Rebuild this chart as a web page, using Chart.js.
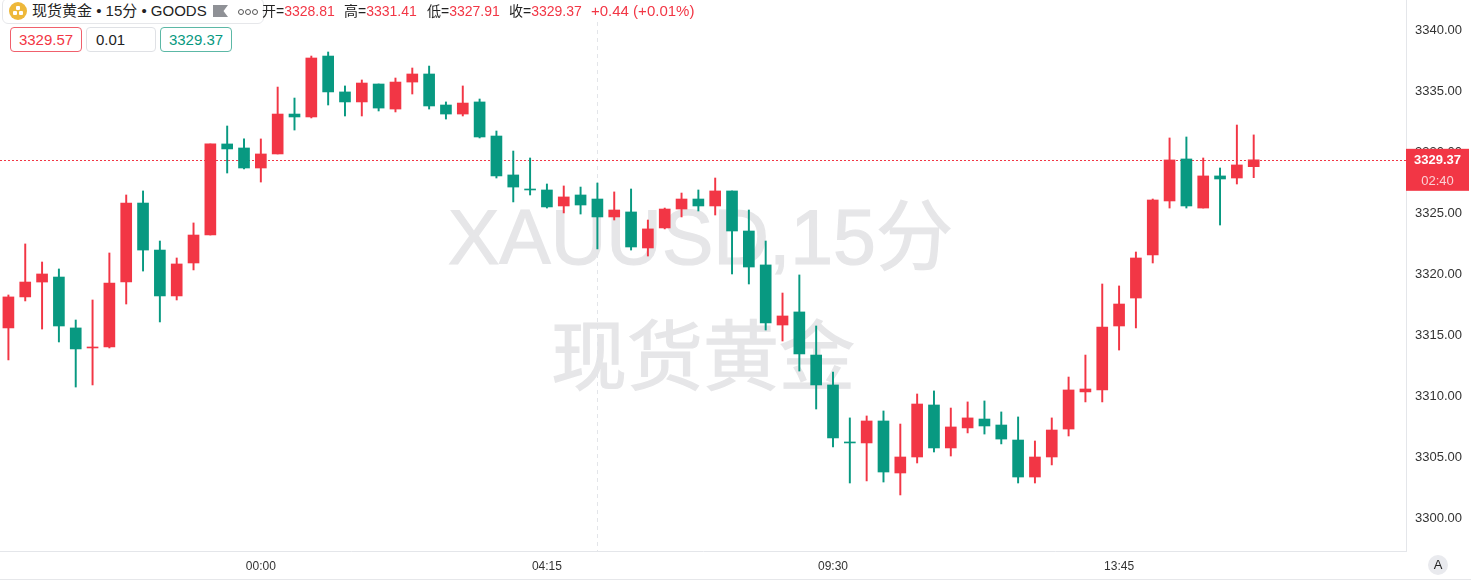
<!DOCTYPE html>
<html>
<head>
<meta charset="utf-8">
<style>
  html, body { margin: 0; padding: 0; background: #fff; }
  body { width: 1471px; height: 581px; position: relative; overflow: hidden; font-family: "Liberation Sans", "Noto Sans CJK SC", sans-serif; }
  canvas { position: absolute; left: 0; top: 0; }
  .abs { position: absolute; white-space: nowrap; }
  .mark { color: #e6e6e8; -webkit-text-stroke: 1.2px #e6e6e8; line-height: 1; transform: translateY(-50%); }
  .titlebox { left: 2px; top: -2px; width: 260px; height: 24px; background: #fff; border: 1px solid #e6e7ea; border-radius: 6px; }
  .coin { left: 9px; top: 2px; width: 18px; height: 18px; border-radius: 50%; background: #eeb83a; }
  .coin i { position: absolute; width: 4px; height: 4px; background: #fff; border-radius: 1px; }
  .flag { left: 213px; top: 5px; width: 15px; height: 12px; background: #8f9196; clip-path: polygon(0 0, 100% 0, 70% 50%, 100% 100%, 0 100%); }
  .dot { top: 9px; width: 4px; height: 4px; border: 1px solid #555; border-radius: 50%; }
  .hd { top: 3px; font-size: 14px; line-height: 16px; color: #f23645; }
  .hd b { font-weight: normal; color: #222; }
  .pbox { top: 27px; height: 23px; line-height: 23px; font-size: 15px; text-align: center; border-radius: 4px; border: 1px solid; background: #fff; }
</style>
<script src="https://cdn.jsdelivr.net/npm/chart.js@4"></script>
</head>
<body>
<div class="abs mark" style="left:448px;top:237px;font-size:77px">XAUUSD,15分</div>
<div class="abs mark" style="left:551px;top:358px;font-size:76px">现货黄金</div>
<canvas id="chart" width="1471" height="581"></canvas>

<div class="abs titlebox"></div>
<div class="abs coin"><i style="left:7px;top:4px"></i><i style="left:4px;top:9px"></i><i style="left:10px;top:9px"></i></div>
<div class="abs" style="left:32px;top:3px;font-size:15px;line-height:16px;color:#222">现货黄金 • 15分 • GOODS</div>
<div class="abs flag"></div>
<div class="abs dot" style="left:238px"></div>
<div class="abs dot" style="left:245px"></div>
<div class="abs dot" style="left:252px"></div>
<div class="abs hd" style="left:262px"><b>开=</b>3328.81</div>
<div class="abs hd" style="left:344px"><b>高=</b>3331.41</div>
<div class="abs hd" style="left:427px"><b>低=</b>3327.91</div>
<div class="abs hd" style="left:509px"><b>收=</b>3329.37</div>
<div class="abs hd" style="left:591px;font-size:15px">+0.44 (+0.01%)</div>
<div class="abs pbox" style="left:10px;width:70px;color:#f23645;border-color:#f0606c">3329.57</div>
<div class="abs pbox" style="left:86px;width:68px;color:#222;border-color:#dfe1e5;text-align:left;text-indent:9px">0.01</div>
<div class="abs pbox" style="left:160px;width:70px;color:#089981;border-color:#5cb8a6">3329.37</div>

<div class="abs" style="left:1428px;top:555px;width:20px;height:20px;line-height:20px;border-radius:50%;background:#e9eaee;text-align:center;font-size:13px;color:#222">A</div>
<div class="abs" style="left:0;top:579px;width:1471px;height:1px;background:#e6e7ea"></div>

<script>
const open = [3315.60,3318.14,3319.36,3319.77,3315.60,3313.96,3314.04,3319.36,3325.83,3321.98,3318.22,3320.92,3323.21,3330.67,3330.34,3328.70,3329.85,3333.12,3332.88,3337.87,3334.93,3334.11,3335.58,3333.53,3335.74,3336.40,3333.86,3333.12,3334.11,3331.32,3328.13,3326.98,3326.90,3325.59,3326.49,3326.16,3324.69,3325.10,3322.15,3323.79,3325.34,3326.16,3325.59,3326.82,3323.54,3320.76,3315.84,3316.91,3313.38,3310.93,3306.26,3306.18,3307.98,3303.72,3305.03,3309.29,3305.77,3307.41,3308.14,3307.65,3306.42,3303.39,3305.03,3307.32,3310.36,3310.52,3315.76,3318.05,3321.58,3326.00,3329.44,3325.42,3328.05,3327.88,3328.81];
const high = [3318.30,3322.48,3321.00,3320.43,3316.25,3317.89,3321.74,3326.49,3326.82,3322.72,3321.33,3324.20,3330.67,3332.14,3331.08,3331.08,3335.33,3334.43,3337.87,3338.20,3335.42,3335.91,3335.58,3336.07,3336.89,3337.05,3334.11,3335.42,3334.35,3331.73,3330.09,3329.52,3327.39,3327.23,3327.14,3327.47,3326.74,3326.98,3324.44,3325.42,3326.65,3326.90,3327.88,3326.82,3325.26,3322.72,3318.46,3319.94,3315.76,3311.99,3308.23,3308.39,3308.80,3307.73,3310.19,3310.44,3309.04,3309.54,3309.62,3308.72,3308.31,3306.34,3308.23,3311.58,3313.38,3319.20,3319.04,3321.82,3326.16,3331.16,3331.24,3329.52,3328.70,3332.22,3331.41];
const low = [3312.98,3317.81,3315.51,3314.45,3310.76,3310.93,3313.96,3317.56,3320.26,3316.09,3317.89,3320.35,3323.21,3328.29,3328.62,3327.55,3329.85,3331.81,3332.80,3333.86,3332.96,3332.96,3333.37,3333.29,3334.76,3333.53,3332.71,3332.96,3331.16,3327.88,3325.92,3326.49,3325.42,3325.02,3324.93,3322.07,3324.44,3321.98,3321.49,3323.71,3324.69,3325.18,3324.85,3320.02,3319.20,3315.43,3314.53,3312.07,3308.96,3305.85,3302.90,3303.07,3302.98,3301.92,3304.54,3305.44,3305.11,3307.00,3306.91,3306.10,3302.90,3302.90,3304.38,3306.75,3309.54,3309.54,3313.79,3315.60,3320.92,3325.42,3325.42,3325.42,3324.03,3327.39,3327.91];
const close = [3318.14,3319.36,3320.02,3315.76,3313.88,3314.04,3319.28,3325.83,3321.98,3318.22,3320.84,3323.21,3330.67,3330.26,3328.70,3329.85,3333.12,3332.88,3337.71,3334.93,3334.11,3335.66,3333.61,3335.74,3336.40,3333.78,3333.12,3334.02,3331.24,3328.05,3327.14,3326.90,3325.51,3326.33,3325.67,3324.69,3325.26,3322.23,3323.71,3325.34,3326.16,3325.59,3326.82,3323.54,3320.59,3316.01,3316.58,3313.47,3310.93,3306.59,3306.18,3307.98,3303.80,3305.03,3309.37,3305.77,3307.49,3308.23,3307.57,3306.50,3303.39,3305.03,3307.24,3310.52,3310.60,3315.68,3317.56,3321.33,3326.08,3329.36,3325.59,3328.05,3327.80,3328.95,3329.37];

const timeLabels = ['00:00', '04:15', '09:30', '13:45'];
const timeIndex = [15, 32, 49, 66];
const priceTicks = [3300, 3305, 3310, 3315, 3320, 3325, 3330, 3335, 3340];
const lastPrice = 3329.37;
const countdown = '02:40';
const crossIndex = 35;

const RED = '#f23645';
const GREEN = '#089981';
const colors = close.map((c, i) => c >= open[i] ? RED : GREEN);

// no candlestick type in plain chart.js, so wicks and bodies are two floating bar sets
const wicks = high.map((h, i) => ({ x: i, y: [low[i], h] }));
const bodies = open.map((o, i) => ({ x: i, y: [Math.min(o, close[i]), Math.max(o, close[i])] }));

const overlay = {
  id: 'overlay',
  beforeDatasetsDraw(chart) {
    const { ctx, scales, chartArea } = chart;
    const y = Math.round(scales.y.getPixelForValue(lastPrice)) + 0.5;
    const x = Math.round(scales.x.getPixelForValue(crossIndex)) + 0.5;
    ctx.save();
    ctx.lineWidth = 1;
    ctx.strokeStyle = '#e3e5e9';
    ctx.setLineDash([4, 4]);
    ctx.beginPath();
    ctx.moveTo(x, chartArea.top + 22);
    ctx.lineTo(x, chartArea.bottom);
    ctx.stroke();
    ctx.strokeStyle = RED;
    ctx.setLineDash([2, 2]);
    ctx.beginPath();
    ctx.moveTo(chartArea.left, y);
    ctx.lineTo(chartArea.right, y);
    ctx.stroke();
    ctx.restore();
  },
  afterDraw(chart) {
    const { ctx, scales, chartArea } = chart;
    const y = scales.y.getPixelForValue(lastPrice);
    const left = chartArea.right;
    ctx.save();
    ctx.fillStyle = RED;
    ctx.fillRect(left, y - 11, 63, 42);
    ctx.fillStyle = '#fff';
    ctx.font = 'bold 13px "Liberation Sans"';
    ctx.textAlign = 'center';
    ctx.textBaseline = 'middle';
    ctx.fillText(lastPrice.toFixed(2), left + 31.5, y + 0.5);
    ctx.fillStyle = '#fbd0d4';
    ctx.font = '13px "Liberation Sans"';
    ctx.fillText(countdown, left + 31.5, y + 21.5);
    ctx.restore();
  }
};

new Chart(document.getElementById('chart'), {
  type: 'bar',
  data: {
    datasets: [
      { data: wicks, backgroundColor: colors, barThickness: 1.3, grouped: false, order: 2 },
      { data: bodies, backgroundColor: colors, barThickness: 11, grouped: false, order: 1 }
    ]
  },
  plugins: [overlay],
  options: {
    responsive: false,
    animation: false,
    layout: { padding: 0 },
    plugins: { legend: { display: false }, tooltip: { enabled: false } },
    scales: {
      x: {
        type: 'linear',
        offset: false,
        min: -0.5,
        max: 83.05,
        grid: { display: false },
        border: { color: '#e4e6ea' },
        afterBuildTicks(scale) { scale.ticks = timeIndex.map(v => ({ value: v })); },
        afterFit(scale) { scale.height = 30; scale.paddingLeft = 0; scale.paddingRight = 0; },
        ticks: {
          autoSkip: false,
          maxRotation: 0,
          padding: 0,
          color: '#333',
          font: { family: '"Liberation Sans"', size: 12 },
          callback: v => timeLabels[timeIndex.indexOf(v)]
        }
      },
      y: {
        position: 'right',
        min: 3297.33,
        max: 3342.46,
        grid: { display: false },
        border: { color: '#e4e6ea' },
        afterBuildTicks(scale) { scale.ticks = priceTicks.map(v => ({ value: v })); },
        afterFit(scale) { scale.width = 65; scale.paddingTop = 0; scale.paddingBottom = 0; },
        ticks: {
          autoSkip: false,
          padding: 1,
          color: '#333',
          font: { family: '"Liberation Sans"', size: 13 },
          callback: v => v.toFixed(2)
        }
      }
    }
  }
});
</script>
</body>
</html>
